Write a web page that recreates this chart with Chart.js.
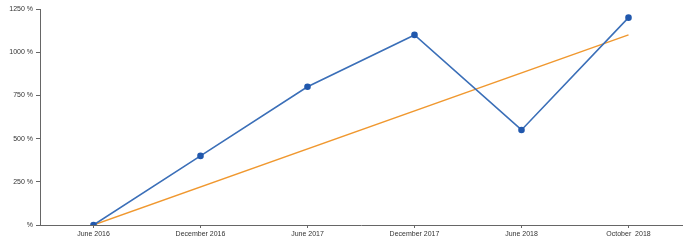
<!DOCTYPE html>
<html>
<head>
<meta charset="utf-8">
<script src="https://cdn.jsdelivr.net/npm/chart.js@4/dist/chart.umd.min.js"></script>
<style>
  html, body { margin: 0; padding: 0; background: #fff; }
  #wrap { width: 696px; height: 241px; }
</style>
</head>
<body>
<div id="wrap"><canvas id="growthChart"></canvas></div>
<script>
const periods = ["June 2016", "December 2016", "June 2017", "December 2017", "June 2018", "October  2018"];
const growth = [0, 400, 800, 1100, 550, 1200];
// trend only has its two ends, the line spans the gap
const trend = [0, null, null, null, null, 1100];
const yTicks = [0, 250, 500, 750, 1000, 1250];

const axisColor = "#666";
const tickFont = { family: "Liberation Sans, Arial, sans-serif", size: 7 };

new Chart(document.getElementById("growthChart"), {
    type: "line",
    data: {
        labels: periods,
        datasets: [{
            label: "Growth",
            data: growth,
            borderColor: "#3b6fb8",
            borderWidth: 1.6,
            pointRadius: 2.5,
            pointBackgroundColor: "#2158ad",
            pointBorderColor: "#2158ad",
            tension: 0,
        }, {
            label: "Trend",
            data: trend,
            spanGaps: true,
            borderColor: "#f0982f",
            borderWidth: 1.4,
            pointRadius: 0,
            tension: 0,
        }]
    },
    options: {
        responsive: true,
        maintainAspectRatio: false,
        animation: false,
        layout: { padding: { top: 9, right: 14, left: 0, bottom: 0 } },
        plugins: { legend: { display: false }, tooltip: { enabled: false } },
        scales: {
            x: {
                offset: true,
                grid: { drawOnChartArea: false, drawTicks: true, tickLength: 3, color: axisColor, offset: false },
                border: { color: axisColor, width: 1 },
                ticks: { color: "#333", font: tickFont, padding: 2, maxRotation: 0, autoSkip: false },
                afterFit: s => { s.height = 16; },
            },
            y: {
                min: 0,
                max: 1250,
                afterBuildTicks: s => { s.ticks = yTicks.map(v => ({ value: v })); },
                grid: { drawOnChartArea: false, drawTicks: true, tickLength: 4, color: axisColor },
                border: { color: axisColor, width: 1 },
                ticks: {
                    color: "#333",
                    font: tickFont,
                    padding: 3,
                    callback: v => (v === 0 ? "" : v) + " %",
                },
                afterFit: s => { s.width = 40; },
            }
        }
    }
});
</script>
</body>
</html>
